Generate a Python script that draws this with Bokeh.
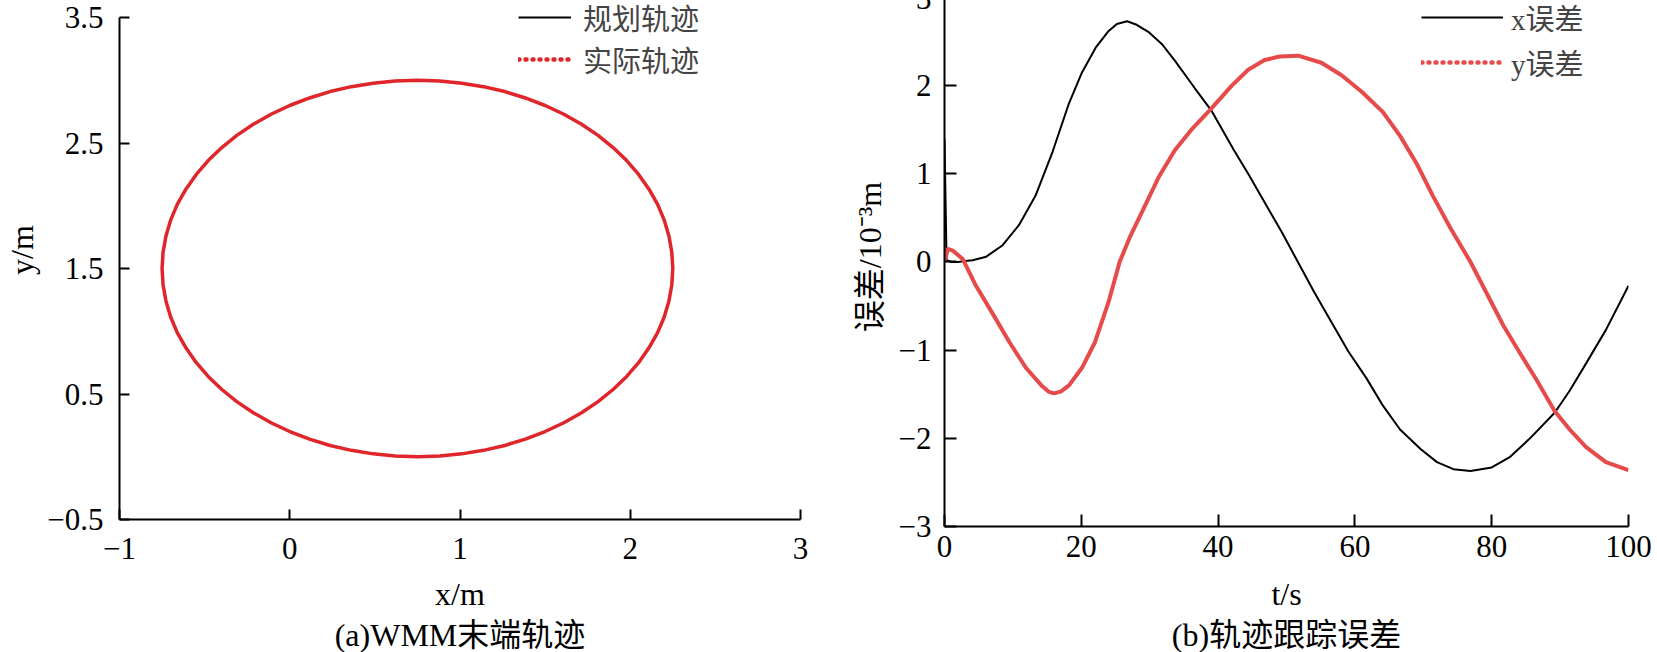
from bokeh.plotting import figure
from bokeh.models import Range1d, FixedTicker, Legend, LegendItem, Title
from bokeh.layouts import row
from bokeh.embed import file_html
from bokeh.resources import INLINE

# ---------------- data: panel (a) WMM end trajectory ----------------
planned_x = [2.250, 2.244, 2.227, 2.199, 2.160, 2.109, 2.049, 1.979, 1.899, 1.811, 1.714, 1.610,
             1.500, 1.384, 1.263, 1.138, 1.010, 0.881, 0.750, 0.619, 0.490, 0.362, 0.237, 0.116,
             0.000, -0.110, -0.214, -0.311, -0.399, -0.479, -0.549, -0.609, -0.660, -0.699,
             -0.727, -0.744, -0.750, -0.744, -0.727, -0.699, -0.660, -0.609, -0.549, -0.479,
             -0.399, -0.311, -0.214, -0.110, 0.000, 0.116, 0.237, 0.362, 0.490, 0.619, 0.750,
             0.881, 1.010, 1.138, 1.263, 1.384, 1.500, 1.610, 1.714, 1.811, 1.899, 1.979, 2.049,
             2.109, 2.160, 2.199, 2.227, 2.244, 2.250]
planned_y = [1.500, 1.631, 1.760, 1.888, 2.013, 2.134, 2.250, 2.360, 2.464, 2.561, 2.649, 2.729,
             2.799, 2.859, 2.910, 2.949, 2.977, 2.994, 3.000, 2.994, 2.977, 2.949, 2.910, 2.859,
             2.799, 2.729, 2.649, 2.561, 2.464, 2.360, 2.250, 2.134, 2.013, 1.888, 1.760, 1.631,
             1.500, 1.369, 1.240, 1.112, 0.987, 0.866, 0.750, 0.640, 0.536, 0.439, 0.351, 0.271,
             0.201, 0.141, 0.090, 0.051, 0.023, 0.006, 0.000, 0.006, 0.023, 0.051, 0.090, 0.141,
             0.201, 0.271, 0.351, 0.439, 0.536, 0.640, 0.750, 0.866, 0.987, 1.112, 1.240, 1.369,
             1.500]
actual_x = list(planned_x)
actual_y = list(planned_y)

# ---------------- data: panel (b) tracking error (10^-3 m) ----------------
t_x = [0, 0.3, 1, 2, 3, 4.1, 6.1, 8.5, 10.9, 13.3, 15.8, 18.2, 20.1, 22.1, 24.0, 25.2, 26.7,
       28.1, 29.8, 31.8, 33.7, 36.6, 39.0, 42.3, 44.4, 49.3, 54.1, 59.0, 61.7, 64.1, 66.6,
       69.6, 72.0, 74.4, 76.9, 80.0, 82.7, 85.6, 89.2, 91.4, 93.8, 96.7, 100]
err_x = [1.40, 0.02, 0.0, 0.0, 0.01, 0.02, 0.06, 0.19, 0.42, 0.75, 1.25, 1.80, 2.15, 2.43,
         2.62, 2.70, 2.73, 2.69, 2.61, 2.47, 2.28, 1.97, 1.72, 1.27, 1.00, 0.34, -0.35, -1.01,
         -1.32, -1.63, -1.90, -2.12, -2.27, -2.35, -2.37, -2.33, -2.21, -2.00, -1.71, -1.46,
         -1.15, -0.77, -0.27]
t_y = [0, 0.5, 1.2, 2.7, 4.6, 7.0, 9.5, 11.9, 14.3, 15.2, 16.0, 17.0, 18.2, 20.1, 22.0, 24.0,
       25.6, 27.2, 28.9, 31.3, 33.7, 36.1, 39.0, 42.0, 44.4, 46.8, 49.0, 51.7, 55.1, 58.0,
       61.0, 64.1, 66.6, 69.0, 71.4, 74.0, 76.9, 79.3, 81.7, 84.1, 86.5, 89.2, 91.4, 93.8,
       96.7, 100]
err_y = [0.0, 0.15, 0.13, 0.03, -0.27, -0.58, -0.91, -1.20, -1.41, -1.47, -1.49, -1.47,
         -1.40, -1.20, -0.91, -0.45, 0.0, 0.30, 0.57, 0.96, 1.27, 1.50, 1.74, 2.00, 2.18, 2.29,
         2.33, 2.34, 2.26, 2.12, 1.93, 1.70, 1.43, 1.12, 0.75, 0.38, 0.0, -0.36, -0.72, -1.03,
         -1.33, -1.69, -1.90, -2.10, -2.27, -2.36]

x_ticks_a = [-1, 0, 1, 2, 3]
y_ticks_a = [-0.5, 0.5, 1.5, 2.5, 3.5]
x_ticks_b = [0, 20, 40, 60, 80, 100]
y_ticks_b = [-3, -2, -1, 0, 1, 2, 3]

legend_a = ["规划轨迹", "实际轨迹"]
legend_b = ["x误差", "y误差"]
xlabel_a, ylabel_a = "x/m", "y/m"
xlabel_b, ylabel_b = "t/s", "误差/10\u207b\u00b3m"
caption_a = "(a)WMM末端轨迹"
caption_b = "(b)轨迹跟踪误差"

SERIF = "Liberation Serif, Noto Sans CJK SC"
RED_A = "#e0262b"
RED_B = "#e64a4a"
MINUS = "\u2212"
NAN = float("nan")


def style_axes(p, tick_len, xstandoff, xlabel_standoff, ystandoff, ylabel_standoff):
    p.outline_line_color = None
    p.grid.visible = False
    for ax in (p.xaxis[0], p.yaxis[0]):
        ax.axis_line_width = 2
        ax.axis_line_color = "black"
        ax.major_tick_line_width = 2
        ax.major_tick_line_color = "black"
        ax.major_tick_in = tick_len
        ax.major_tick_out = 0
        ax.minor_tick_line_color = None
        ax.major_label_text_font = "Liberation Serif"
        ax.major_label_text_font_size = "31px"
        ax.major_label_text_color = "black"
        ax.axis_label_text_font = SERIF
        ax.axis_label_text_font_size = "32px"
        ax.axis_label_text_font_style = "normal"
        ax.axis_label_text_color = "black"
    p.xaxis[0].major_label_standoff = xstandoff
    p.yaxis[0].major_label_standoff = ystandoff
    p.xaxis[0].axis_label_standoff = xlabel_standoff
    p.yaxis[0].axis_label_standoff = ylabel_standoff


def add_caption(p, text):
    p.add_layout(Title(text=text, align="center", text_font=SERIF, text_font_size="32px",
                       text_font_style="normal", text_color="black", standoff=0), "below")


# ---------------- panel (a) ----------------
p1 = figure(width=830, height=672, x_range=Range1d(-1, 3), y_range=Range1d(-0.5, 3.795),
            min_border_left=119, min_border_right=30, min_border_top=0, min_border_bottom=133,
            output_backend="svg", toolbar_location=None,
            background_fill_color="white", border_fill_color="white",
            styles={"margin-top": "-20px"})
p1.xaxis[0].axis_label = xlabel_a
p1.yaxis[0].axis_label = ylabel_a
style_axes(p1, 10, 18, 14, 16, 4)
p1.yaxis[0].bounds = (-0.5, 3.5)
p1.xaxis[0].ticker = FixedTicker(ticks=x_ticks_a)
p1.yaxis[0].ticker = FixedTicker(ticks=y_ticks_a)
p1.xaxis[0].major_label_overrides = {t: (MINUS + str(abs(t))) for t in x_ticks_a if t < 0}
p1.yaxis[0].major_label_overrides = {t: (MINUS + str(abs(t))) for t in y_ticks_a if t < 0}

r_plan = p1.line(planned_x, planned_y, line_color="black", line_width=2)
r_act = p1.line(actual_x, actual_y, line_color=RED_A, line_width=3.5)
key_a = p1.line([NAN], [NAN], line_color=RED_A, line_width=4.5, line_dash="1 6",
                line_cap="round")

leg1 = Legend(items=[LegendItem(label=legend_a[0], renderers=[r_plan]),
                     LegendItem(label=legend_a[1], renderers=[key_a])],
              location=(399, 439), orientation="vertical", border_line_color=None,
              background_fill_alpha=0, padding=0, spacing=-2, margin=0,
              glyph_width=53, glyph_height=42, label_height=42, label_standoff=12,
              label_text_font=SERIF, label_text_font_size="29px")
p1.add_layout(leg1)
add_caption(p1, caption_a)

# ---------------- panel (b) ----------------
p2 = figure(width=827, height=672, x_range=Range1d(0, 100), y_range=Range1d(-3, 3.113),
            min_border_left=114, min_border_right=29, min_border_top=0, min_border_bottom=126,
            output_backend="svg", toolbar_location=None,
            background_fill_color="white", border_fill_color="white",
            styles={"margin-top": "-13px", "margin-bottom": "-7px"})
p2.xaxis[0].axis_label = xlabel_b
p2.yaxis[0].axis_label = ylabel_b
style_axes(p2, 12, 9, 16, 13, 8)
p2.yaxis[0].bounds = (-3, 3)
p2.xaxis[0].ticker = FixedTicker(ticks=x_ticks_b)
p2.yaxis[0].ticker = FixedTicker(ticks=y_ticks_b)
p2.yaxis[0].major_label_overrides = {t: (MINUS + str(abs(t))) for t in y_ticks_b if t < 0}

r_ex = p2.line(t_x, err_x, line_color="black", line_width=2)
r_ey = p2.line(t_y, err_y, line_color=RED_B, line_width=4)
key_b = p2.line([NAN], [NAN], line_color=RED_B, line_width=4.5, line_dash="1 6",
                line_cap="round")

leg2 = Legend(items=[LegendItem(label=legend_b[0], renderers=[r_ex]),
                     LegendItem(label=legend_b[1], renderers=[key_b])],
              location=(477, 443), orientation="vertical", border_line_color=None,
              background_fill_alpha=0, padding=0, spacing=3, margin=0,
              glyph_width=82, glyph_height=42, label_height=42, label_standoff=8,
              label_text_font=SERIF, label_text_font_size="29px")
p2.add_layout(leg2)
add_caption(p2, caption_b)

layout = row(p1, p2)
open("out.html", "w").write(file_html(layout, INLINE))
